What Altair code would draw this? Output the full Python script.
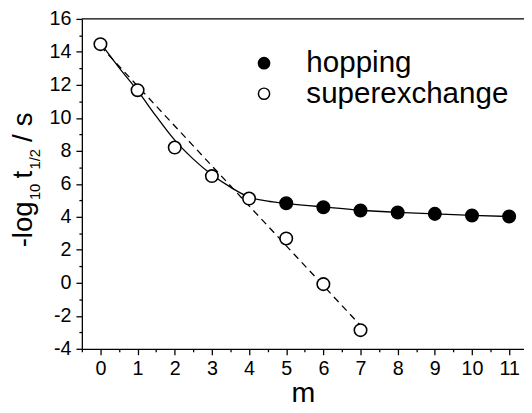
import altair as alt
import pandas as pd

# ---- data ----
m_super = [0, 1, 2, 3, 4, 5, 6, 7]
y_super = [14.47, 11.68, 8.2, 6.47, 5.11, 2.69, -0.08, -2.87]
m_hop = [5, 6, 7, 8, 9, 10, 11]
y_hop = [4.82, 4.58, 4.38, 4.26, 4.18, 4.08, 4.02]
m_curve = [0, 0.5, 1, 1.5, 2, 2.5, 3, 3.5, 4, 4.5, 5, 6, 7, 8, 9, 10, 11]
y_curve = [14.55, 13.05, 11.65, 10.1, 8.65, 7.5, 6.55, 5.8, 5.2, 4.95, 4.82, 4.6, 4.4, 4.27, 4.18, 4.09, 4.02]
m_fit = [0, 7]
y_fit = [14.35, -2.59]
series_names = ["hopping", "superexchange"]
x_ticks = [i * 0.5 for i in range(-1, 23)]
y_ticks = list(range(-4, 17))

FONT = "Liberation Sans"
W, H = 449, 335

pts = pd.DataFrame(
    {"m": m_hop + m_super,
     "v": y_hop + y_super,
     "series": [series_names[0]] * len(m_hop) + [series_names[1]] * len(m_super)}
)
curve = pd.DataFrame({"m": m_curve, "v": y_curve})
fit = pd.DataFrame({"m": m_fit, "v": y_fit})

xscale = alt.Scale(domain=[-0.5, 11.4], nice=False, zero=False)
yscale = alt.Scale(domain=[-4, 16], nice=False, zero=False)

xaxis = alt.Axis(
    values=x_ticks,
    labelExpr="datum.value % 1 === 0 ? '' + datum.value : ''",
    tickSize={"condition": {"test": "datum.value % 1 === 0", "value": 6}, "value": 3},
    title="m", titleFontSize=29, titleFont=FONT, titleFontWeight="normal",
    titleBaseline="alphabetic", titleY=54,
    labelFontSize=20, labelFont=FONT, labelPadding=4,
    labelOverlap=False, labelFlush=False, grid=False,
)
yaxis = alt.Axis(
    values=y_ticks,
    labelExpr="datum.value % 2 === 0 ? '' + datum.value : ''",
    tickSize={"condition": {"test": "datum.value % 2 === 0", "value": 6}, "value": 3},
    title=None,
    labelFontSize=20, labelFont=FONT, labelPadding=5,
    labelOverlap=False, labelFlush=False, grid=False,
)

X = alt.X("m:Q", scale=xscale, axis=xaxis)
Y = alt.Y("v:Q", scale=yscale, axis=yaxis)

line = alt.Chart(curve).mark_line(color="black", strokeWidth=1.3, interpolate="monotone").encode(x=X, y=Y)
dashed = alt.Chart(fit).mark_line(color="black", strokeWidth=1.3, strokeDash=[7, 5]).encode(x=X, y=Y)
points = alt.Chart(pts).mark_circle(size=160, stroke="black", strokeWidth=1.6, opacity=1).encode(
    x=X, y=Y,
    fill=alt.Fill(
        "series:N",
        scale=alt.Scale(domain=series_names, range=["black", "white"]),
        legend=alt.Legend(
            orient="none", legendX=170, legendY=30, title=None,
            labelFontSize=30, labelFont=FONT, labelOffset=28, labelLimit=0,
            symbolType="circle", symbolSize=130, symbolStrokeColor="black",
            symbolStrokeWidth=1.5, rowPadding=1, padding=0,
        ),
    ),
)

top = alt.Chart(alt.Data(values=[{}])).mark_rule(color="black", strokeWidth=1.3).encode(
    x=alt.value(0), x2=alt.value(W), y=alt.value(0)
)

# y-axis title with subscripts, built from pieces
title_parts = [
    ("-log", 28, -51, 232),
    ("10", 15, -42, 184),
    ("t", 28, -51, 162),
    ("1/2", 15, -42, 153),
    ("/", 28, -51, 125),
    ("s", 28, -51, 109),
]
title_layers = [
    alt.Chart(alt.Data(values=[{}])).mark_text(
        text=t, fontSize=fs, font=FONT, angle=270, align="left",
        baseline="alphabetic", color="black"
    ).encode(x=alt.value(xp), y=alt.value(yp))
    for t, fs, xp, yp in title_parts
]

chart = alt.layer(line, dashed, points, top, *title_layers).properties(
    width=W, height=H,
    autosize=alt.AutoSizeParams(type="none"),
    padding={"left": 75, "top": 8, "right": 0, "bottom": 54},
).configure_view(stroke=None).configure_axis(
    domainColor="black", domainWidth=1.3, tickColor="black", tickWidth=1.3,
    labelColor="black", titleColor="black",
)

chart.save("out.html", embed_options={"renderer": "svg", "actions": False})
